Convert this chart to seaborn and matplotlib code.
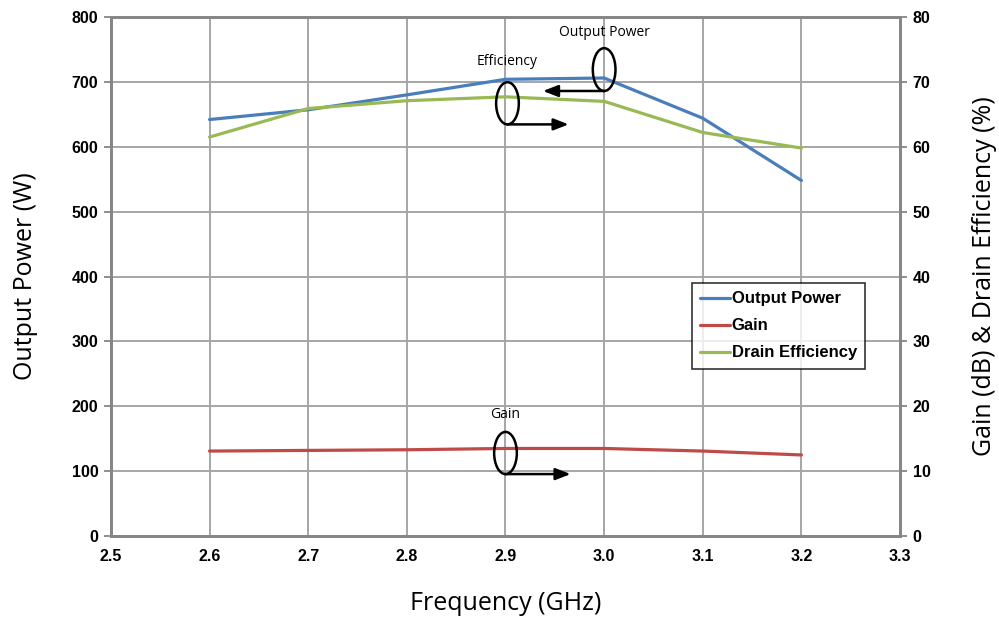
import pandas as pd
import matplotlib
matplotlib.use("Agg")
import matplotlib.pyplot as plt
from matplotlib.patches import Ellipse
import seaborn as sns

# data
freq_ghz = [2.6, 2.7, 2.8, 2.9, 3.0, 3.1, 3.2]
output_power_w = [642, 657, 680, 704, 706, 644, 548]
gain_db = [13.1, 13.2, 13.3, 13.5, 13.5, 13.1, 12.5]
drain_eff_pct = [61.5, 65.9, 67.1, 67.7, 67.0, 62.2, 59.8]

x_ticks = [2.5, 2.6, 2.7, 2.8, 2.9, 3.0, 3.1, 3.2, 3.3]

sns.set_style("white")
plt.rcParams['font.family'] = ['Liberation Sans', 'DejaVu Sans']
plt.rcParams['text.color'] = 'black'
plt.rcParams['axes.labelcolor'] = 'black'

df = pd.DataFrame({'freq': freq_ghz, 'pout': output_power_w,
                   'gain': gain_db, 'eff': drain_eff_pct})

c_blue = '#4a7ebb'
c_red = '#be4b48'
c_green = '#98b954'
grid_c = '#a6a6a6'
spine_c = '#868686'

fig = plt.figure(figsize=(9.99, 6.19), dpi=100)
ax = fig.add_axes([0.111, 0.134, 0.79, 0.8385])
ax2 = ax.twinx()

# Output power on left axis
sns.lineplot(data=df, x='freq', y='pout', ax=ax, color=c_blue, lw=2.3, label='Output Power', legend=False)
# Gain and efficiency on right axis
sns.lineplot(data=df, x='freq', y='gain', ax=ax2, color=c_red, lw=2.3, label='Gain', legend=False)
sns.lineplot(data=df, x='freq', y='eff', ax=ax2, color=c_green, lw=2.3, label='Drain Efficiency', legend=False)

ax.set_xlim(2.5, 3.3)
ax.set_ylim(0, 800)
ax2.set_ylim(0, 80)
ax.set_xticks(x_ticks)
ax.set_xticklabels([f'{v:.1f}' for v in x_ticks])
ax.set_yticks(range(0, 801, 100))
ax2.set_yticks(range(0, 81, 10))

ax.grid(True, color=grid_c, lw=1.4)
ax.set_axisbelow(True)
ax2.grid(False)

for a in (ax, ax2):
    for s in a.spines.values():
        s.set_color(spine_c)
        s.set_linewidth(2)
    a.tick_params(axis='both', length=5, width=1.3, color=spine_c,
                  labelsize=11.5, labelcolor='black', pad=4)
    for lbl in a.get_xticklabels() + a.get_yticklabels():
        lbl.set_fontweight('bold')

ax.set_xlabel('Frequency (GHz)', fontsize=18, family='Open Sans')
ax.set_ylabel('Output Power (W)', fontsize=18, family='Open Sans')
ax2.set_ylabel('Gain (dB) & Drain Efficiency (%)', fontsize=18, family='Open Sans')
ax.xaxis.set_label_coords(0.5, -0.105)
ax.yaxis.set_label_coords(-0.092, 0.5)
ax2.yaxis.set_label_coords(1.091, 0.5)

# legend
h1, l1 = ax.get_legend_handles_labels()
h2, l2 = ax2.get_legend_handles_labels()
leg = ax2.legend(h1 + h2, l1 + l2, loc='upper left', bbox_to_anchor=(0.736, 0.4875),
                 frameon=True, fancybox=False, edgecolor='black', handlelength=1.8,
                 handletextpad=0.1, borderpad=0.5, labelspacing=0.72,
                 borderaxespad=0, prop={'weight': 'bold', 'size': 12})
leg.get_frame().set_linewidth(1.2)

# annotation ellipses and arrows (right-axis data coords)
def tag(xc, yc, h, text, ty, arrow_to):
    ax2.add_patch(Ellipse((xc, yc), 0.023, h, fill=False, ec='black', lw=1.8, zorder=6))
    ax2.annotate('', xy=(arrow_to, yc - h / 2), xytext=(xc, yc - h / 2),
                 arrowprops=dict(arrowstyle='-|>,head_length=0.9,head_width=0.35',
                                 color='black', lw=1.8, shrinkA=0, shrinkB=0), zorder=6)
    ax2.text(xc, ty, text, ha='center', va='center', fontsize=10, family='Open Sans')

tag(3.0, 71.9, 6.6, 'Output Power', 77.6, 2.938)
tag(2.902, 66.7, 6.5, 'Efficiency', 73.2, 2.964)
tag(2.9, 12.8, 6.5, 'Gain', 18.7, 2.966)

fig.savefig('out.png', dpi=100)
